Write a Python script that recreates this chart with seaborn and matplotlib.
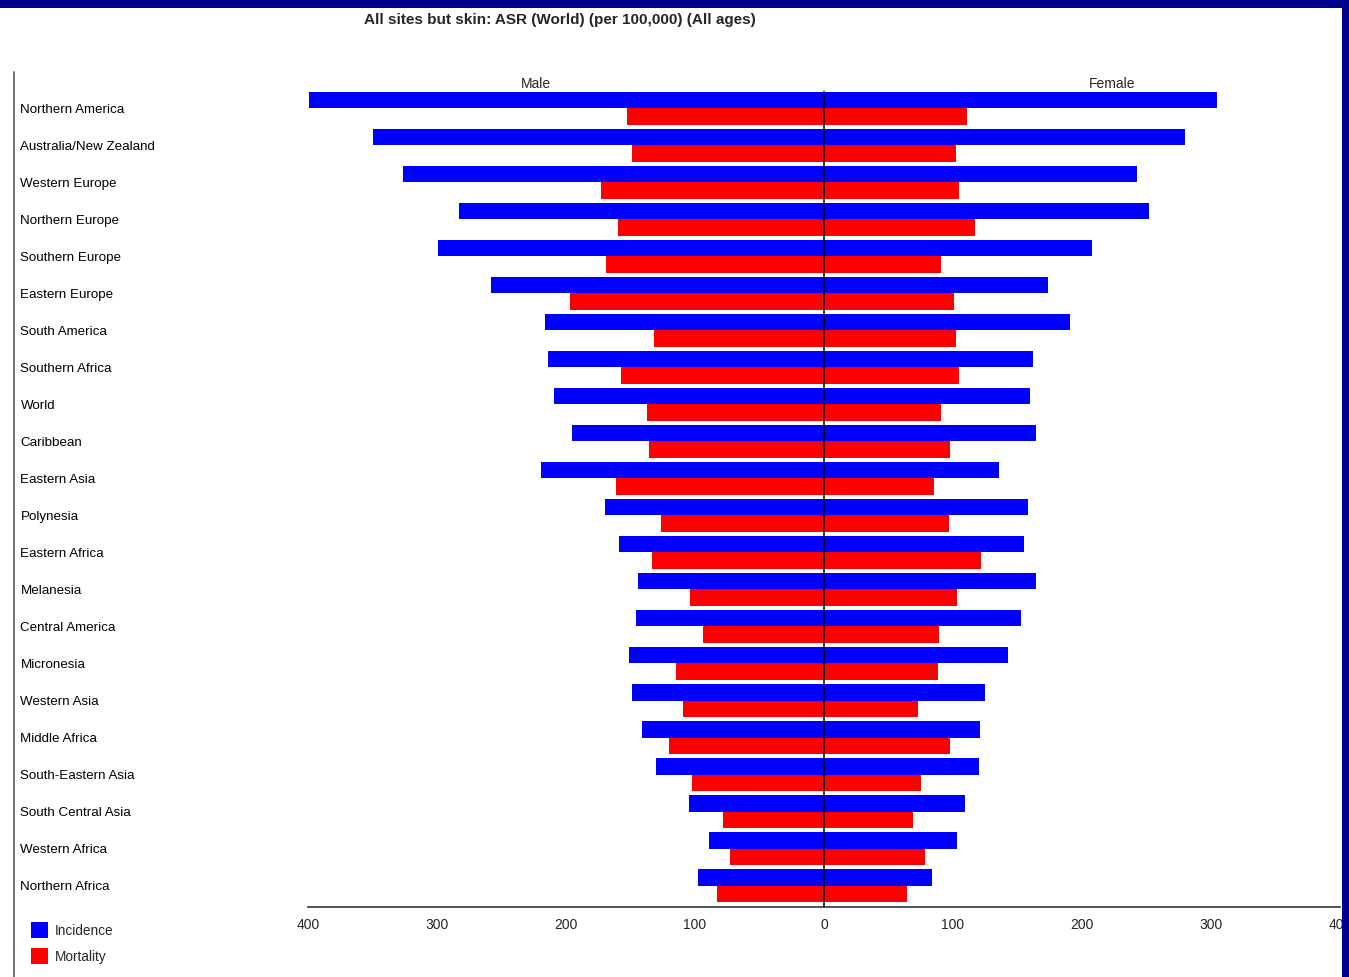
import matplotlib
matplotlib.use("Agg")
import matplotlib.pyplot as plt
from matplotlib.patches import Patch, Rectangle
from matplotlib.lines import Line2D
import pandas as pd
import seaborn as sns

regions = [
    "Northern America", "Australia/New Zealand", "Western Europe", "Northern Europe",
    "Southern Europe", "Eastern Europe", "South America", "Southern Africa", "World",
    "Caribbean", "Eastern Asia", "Polynesia", "Eastern Africa", "Melanesia",
    "Central America", "Micronesia", "Western Asia", "Middle Africa",
    "South-Eastern Asia", "South Central Asia", "Western Africa", "Northern Africa",
]
male_incidence = [399, 350, 326, 283, 299, 258, 216, 214, 209, 195, 219, 170,
                  159, 144, 146, 151, 149, 141, 130, 105, 89, 98]
male_mortality = [153, 149, 173, 160, 169, 197, 132, 157, 137, 136, 161, 126,
                  133, 104, 94, 115, 109, 120, 102, 78, 73, 83]
female_incidence = [305, 280, 243, 252, 208, 174, 191, 162, 160, 164, 136, 158,
                    155, 164, 153, 143, 125, 121, 120, 109, 103, 84]
female_mortality = [111, 102, 105, 117, 91, 101, 102, 105, 91, 98, 85, 97,
                    122, 103, 89, 88, 73, 98, 75, 69, 78, 64]
measures = ["Incidence", "Mortality"]
colours = {"Incidence": "#0000ff", "Mortality": "#ff0000"}
x_ticks = [-400, -300, -200, -100, 0, 100, 200, 300, 400]

male = pd.DataFrame({
    "region": regions * 2,
    "measure": ["Incidence"] * len(regions) + ["Mortality"] * len(regions),
    "value": [-v for v in male_incidence] + [-v for v in male_mortality],
})
female = pd.DataFrame({
    "region": regions * 2,
    "measure": ["Incidence"] * len(regions) + ["Mortality"] * len(regions),
    "value": female_incidence + female_mortality,
})

sns.set_theme(style="white")
plt.rcParams["font.family"] = ["Liberation Sans", "DejaVu Sans"]

fig = plt.figure(figsize=(13.49, 9.77), dpi=100)
ax = fig.add_axes([308 / 1349, 1 - 907 / 977, 1032 / 1349, 816 / 977])

for df in (male, female):
    sns.barplot(data=df, y="region", x="value", hue="measure", hue_order=measures,
                order=regions, palette=colours, orient="h", width=0.88, gap=0,
                saturation=1, legend=False, linewidth=0, edgecolor="none", ax=ax)

ax.set_xlim(-400, 400)
ax.set_ylim(21.58, -0.47)
ax.axvline(0, color="black", lw=1.1, zorder=5)

ax.set_xticks(x_ticks)
ax.set_xticklabels([str(abs(t)) for t in x_ticks], fontsize=10)
ax.tick_params(axis="x", direction="out", length=4, width=1, color="#333333", pad=4)
ax.tick_params(axis="y", length=0, pad=207)
for lab in ax.get_yticklabels():
    lab.set_horizontalalignment("left")
    lab.set_fontsize(9.6)
    lab.set_color("black")
    lab.set_y(lab.get_position()[1])

for side in ("top", "left", "right"):
    ax.spines[side].set_visible(False)
ax.spines["bottom"].set_color("#333333")
ax.spines["bottom"].set_linewidth(1.2)
ax.set_xlabel("")
ax.set_ylabel("")

ax.text(-223, -0.47, "Male", ha="center", va="bottom", fontsize=10)
ax.text(223, -0.47, "Female", ha="center", va="bottom", fontsize=10)

fig.text(560 / 1349, 1 - 20 / 977, "All sites but skin: ASR (World) (per 100,000) (All ages)",
         ha="center", va="center", fontsize=11, fontweight="bold")

# left separator line
fig.add_artist(Line2D([14 / 1349, 14 / 1349], [0, 1 - 72 / 977], color="#555555", lw=1.2))

handles = [Patch(facecolor=colours[m], edgecolor="none") for m in measures]
fig.legend(handles, measures, loc="upper left", bbox_to_anchor=(19 / 1349, 1 - 910 / 977),
           frameon=False, fontsize=9.8, handlelength=1.2, handleheight=1.4,
           handletextpad=0.5, labelspacing=0.75)

# slide border
navy = "#00008f"
fig.add_artist(Rectangle((0, 1 - 8 / 977), 1, 8 / 977, transform=fig.transFigure,
                         facecolor=navy, edgecolor="none", zorder=10))
fig.add_artist(Rectangle((1342 / 1349, 0), 7 / 1349, 1, transform=fig.transFigure,
                         facecolor=navy, edgecolor="none", zorder=10))

fig.savefig("out.png", dpi=100)
